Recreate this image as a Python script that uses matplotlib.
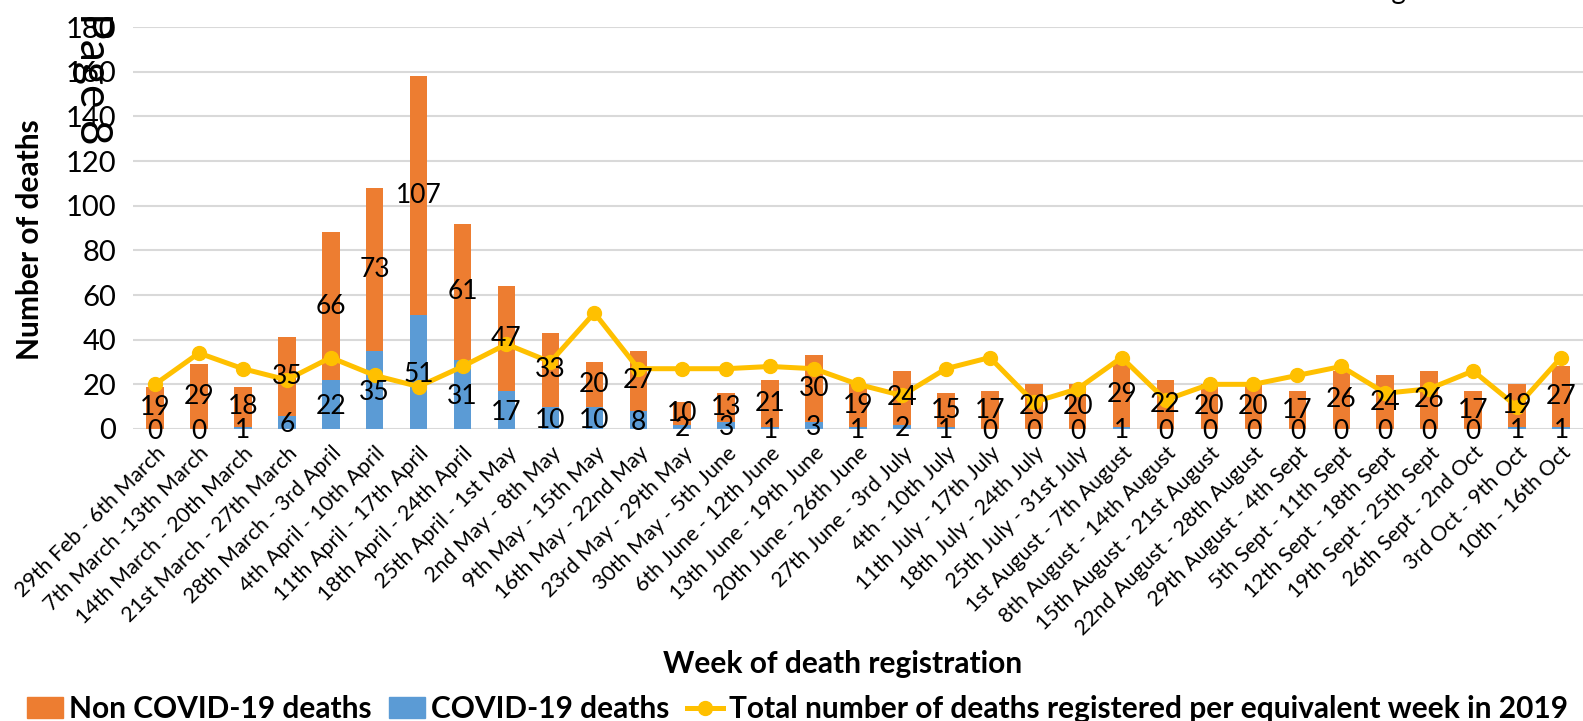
import matplotlib
matplotlib.use("Agg")
import matplotlib.pyplot as plt
import numpy as np
from matplotlib.patches import Patch
from matplotlib.lines import Line2D

plt.rcParams['font.family'] = ['Lato', 'DejaVu Sans']

weeks = ["29th Feb - 6th March", "7th March -13th March", "14th March - 20th March",
         "21st March - 27th March", "28th March - 3rd April", "4th April - 10th April",
         "11th April - 17th April", "18th April - 24th April", "25th April - 1st May",
         "2nd May - 8th May", "9th May - 15th May", "16th May - 22nd May",
         "23rd May - 29th May", "30th May - 5th June", "6th June - 12th June",
         "13th June - 19th June", "20th June - 26th June", "27th June - 3rd July",
         "4th - 10th July", "11th July - 17th July", "18th July - 24th July",
         "25th July - 31st July", "1st August - 7th August", "8th August - 14th August",
         "15th August - 21st August", "22nd August - 28th August", "29th August - 4th Sept",
         "5th Sept - 11th Sept", "12th Sept - 18th Sept", "19th Sept - 25th Sept",
         "26th Sept - 2nd Oct", "3rd Oct - 9th Oct", "10th - 16th Oct"]
non_covid = [19, 29, 18, 35, 66, 73, 107, 61, 47, 33, 20, 27, 10, 13, 21, 30, 19, 24,
             15, 17, 20, 20, 29, 22, 20, 20, 17, 26, 24, 26, 17, 19, 27]
covid = [0, 0, 1, 6, 22, 35, 51, 31, 17, 10, 10, 8, 2, 3, 1, 3, 1, 2,
         1, 0, 0, 0, 1, 0, 0, 0, 0, 0, 0, 0, 0, 1, 1]
total_2019 = [20, 34, 27, 22, 32, 24, 19, 28, 38, 30, 52, 27, 27, 27, 28, 27, 20, 15,
              27, 32, 12, 18, 32, 13, 20, 20, 24, 28, 16, 18, 26, 10, 32]

orange = "#ED7D31"
blue = "#5B9BD5"
yellow = "#FFC000"

W, H = 1583, 721
fig = plt.figure(figsize=(W / 100, H / 100), dpi=100)
ax = fig.add_axes([133 / W, 1 - 429 / H, (W - 133) / W, (429 - 27) / H])

x = np.arange(len(weeks))
ax.bar(x, covid, width=0.4, color=blue, zorder=2)
ax.bar(x, non_covid, width=0.4, bottom=covid, color=orange, zorder=2)
ax.plot(x, total_2019, color=yellow, linewidth=3.6, marker="o", markersize=10, zorder=3)

for i in range(len(weeks)):
    ax.text(x[i], covid[i] + non_covid[i] / 2, str(non_covid[i]), ha="center", va="center",
            fontsize=19, zorder=5)
    ax.text(x[i], covid[i] / 2 - 1, str(covid[i]), ha="center", va="center",
            fontsize=19, zorder=5)

ax.set_ylim(0, 180)
ax.set_yticks(range(0, 181, 20))
ax.set_xlim(-0.5, 32.5)
ax.set_xticks(x)
ax.set_xticklabels(weeks, rotation=45, ha="right", rotation_mode="anchor", fontsize=15.5)
ax.tick_params(axis="x", length=0, pad=10)
ax.tick_params(axis="y", length=0, labelsize=21, pad=12)
ax.yaxis.grid(True, color="#D9D9D9", linewidth=1.5, zorder=0)
ax.set_axisbelow(True)
for s in ax.spines.values():
    s.set_visible(False)

fig.text(30 / W, 1 - 240 / H, "Number of deaths", rotation=90, ha="center", va="center",
         fontsize=21.5, fontweight="bold")
fig.text(843 / W, 1 - 664 / H, "Week of death registration", ha="center", va="center",
         fontsize=21.5, fontweight="bold")
fig.text(92 / W, 1 - 12 / H, "Page 8", rotation=270, ha="center", va="top", fontsize=32)
fig.text(1470 / W, 1 + 1 / H, "Figure 8", ha="right", va="baseline", fontsize=20)

handles = [Patch(color=orange), Patch(color=blue),
           Line2D([0], [0], color=yellow, linewidth=3.6, marker="o", markersize=10)]
labels = ["Non COVID-19 deaths", "COVID-19 deaths",
          "Total number of deaths registered per equivalent week in 2019"]
fig.legend(handles, labels, loc="lower left", bbox_to_anchor=(0, -0.04), ncol=3,
           frameon=False, handlelength=1.2, handletextpad=0.2, columnspacing=0.6,
           prop={"size": 21.5, "weight": "bold"})

plt.savefig("out.png", dpi=100)
